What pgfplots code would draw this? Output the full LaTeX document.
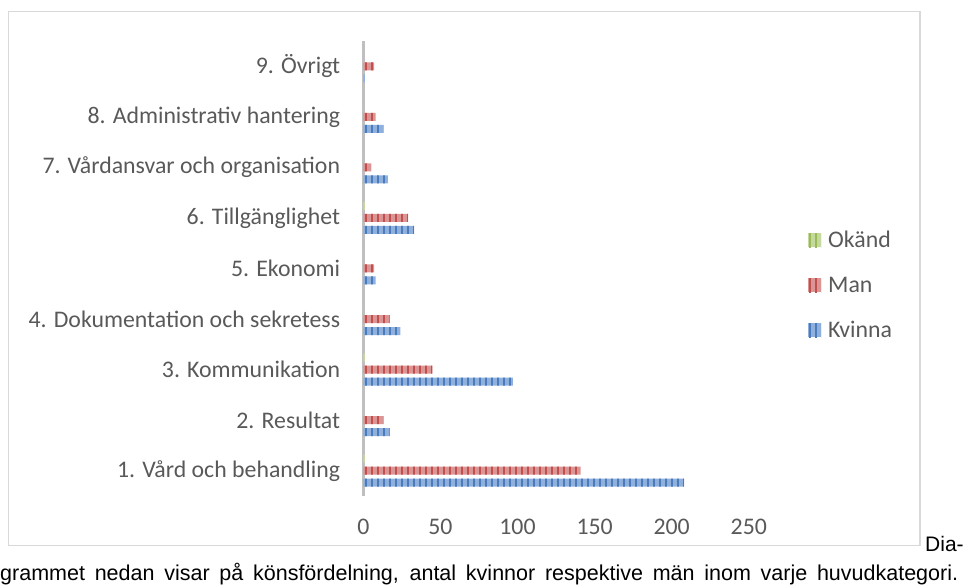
\documentclass[border=0pt]{standalone}
\usepackage{fontspec}
\setmainfont{Carlito}
\newfontfamily\arialfont{Liberation Sans}
\usepackage{pgfplots}
\pgfplotsset{compat=1.18}
\usetikzlibrary{patterns.meta}
\definecolor{txt}{HTML}{595959}
\definecolor{framecol}{HTML}{D9D9D9}
\definecolor{axiscol}{HTML}{BFBFBF}
\definecolor{kvfill}{HTML}{8FB0DC}
\definecolor{kvline}{HTML}{4A7CBC}
\definecolor{manfill}{HTML}{DB9594}
\definecolor{manline}{HTML}{C0504D}
\definecolor{okfill}{HTML}{C5D99F}
\definecolor{okline}{HTML}{9BBB59}
\pgfplotsset{
  kv/.style={draw=none, fill=kvfill, postaction={pattern={Lines[angle=90,distance=6pt,line width=2pt]}, pattern color=kvline}},
  man/.style={draw=none, fill=manfill, postaction={pattern={Lines[angle=90,distance=6pt,line width=2pt]}, pattern color=manline}},
  ok/.style={draw=none, fill=okfill, postaction={pattern={Lines[angle=90,distance=6pt,line width=2pt]}, pattern color=okline}},
}
\begin{document}
\begin{tikzpicture}
\useasboundingbox (0pt,0pt) rectangle (965pt,585pt);
\draw[framecol, line width=1.5pt] (8.5pt,39.5pt) rectangle (920pt,573.5pt);
\begin{axis}[
  at={(363.3pt,89pt)}, anchor=south west,
  scale only axis, width=385.5pt, height=455pt,
  xbar, bar width=8pt,
  xmin=0, xmax=250, ymin=0.5, ymax=9.5,
  xtick={0,50,100,150,200,250},
  ytick={1,2,3,4,5,6,7,8,9},
  yticklabels={1. Vård och behandling, 2. Resultat, 3. Kommunikation, 4. Dokumentation och sekretess, 5. Ekonomi, 6. Tillgänglighet, 7. Vårdansvar och organisation, 8. Administrativ hantering, 9. Övrigt},
  axis x line*=bottom, axis y line*=left,
  x axis line style={draw=none},
  y axis line style={draw=axiscol, line width=3pt},
  major tick length=0pt, tick style={draw=none},
  /pgf/number format/assume math mode=true,
  tick label style={font=\fontsize{23.8}{28}\selectfont, text=txt},
  xticklabel style={inner sep=0pt, yshift=-23pt},
  yticklabel style={inner sep=0pt, xshift=-23pt},
  legend style={draw=none, fill=none, at={(1.1536,0.4637)}, anchor=west, inner sep=0pt,
    font=\fontsize{23.8}{28}\selectfont, text=txt, row sep=30pt, column sep=7pt,
    nodes={inner sep=0pt, text height=15pt, text depth=0pt}},
  legend cell align=left,
  reverse legend,
  legend image code/.code={\fill[#1] (0pt,-7pt) rectangle (13pt,7pt);},
]
\addplot[kv, bar shift=-12pt] coordinates {(208,1) (17,2) (97,3) (24,4) (8,5) (33,6) (16,7) (13,8) (1,9)};
\addlegendentry{Kvinna}
\addplot[man, bar shift=0pt] coordinates {(141,1) (13,2) (45,3) (17,4) (7,5) (29,6) (5,7) (8,8) (7,9)};
\addlegendentry{Man}
\addplot[ok, bar shift=12pt] coordinates {(1,1) (0,2) (1,3) (0,4) (0,5) (1,6) (0,7) (0,8) (0,9)};
\addlegendentry{Okänd}
\end{axis}
\node[anchor=base west, inner sep=0pt, font=\arialfont\fontsize{21}{24}\selectfont] at (925pt,33pt) {Dia-};
\node[anchor=base west, inner sep=0pt, font=\arialfont\fontsize{21.5}{24}\selectfont] at (0pt,4pt) {\makebox[958pt][s]{grammet nedan visar på könsfördelning, antal kvinnor respektive män inom varje huvudkategori.}};
\end{tikzpicture}
\end{document}
